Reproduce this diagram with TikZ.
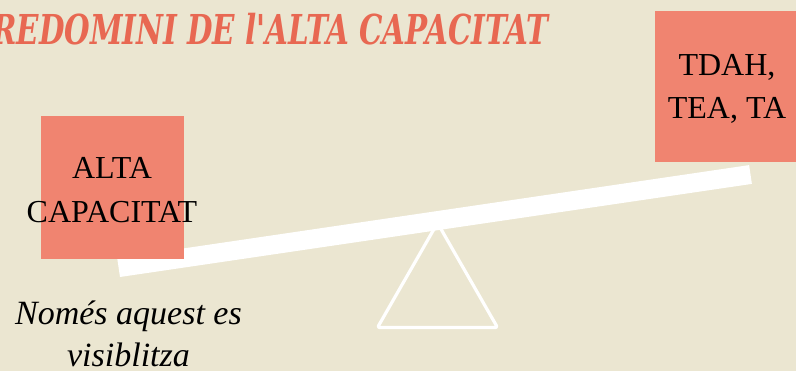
\documentclass[tikz,border=0pt]{standalone}
\usepackage{fontspec}
\setmainfont{Liberation Serif}
\newfontfamily\titlefont{DejaVu Serif Condensed}
\definecolor{bgcol}{RGB}{235,230,209}
\definecolor{boxcol}{RGB}{240,132,112}
\definecolor{titlecol}{RGB}{232,104,82}
\tikzset{
  boxnode/.style={fill=boxcol, draw=none, inner sep=0pt},
  boxtext/.style={inner sep=0pt, align=center, text=black, font=\fontsize{32}{44}\selectfont},
  notetext/.style={inner sep=0pt, align=center, text=black, font=\itshape\fontsize{34}{42}\selectfont},
  titletext/.style={inner sep=0pt, text=titlecol, font=\titlefont\bfseries\itshape\fontsize{41}{45}\selectfont},
  plank/.style={draw=white, line width=19pt, line cap=butt},
  fulcrum/.style={draw=white, line width=3.2pt, line join=round, rounded corners=2pt}
}
\begin{document}
\begin{tikzpicture}[x=1pt,y=-1pt]
\useasboundingbox (0,0) rectangle (796,371);
\fill[bgcol] (0,0) rectangle (796,371);
% title
\node[titletext, anchor=base west] (title) at (-8,45) {\resizebox{556pt}{31.3pt}{\llap{P}REDOMINI DE l'ALTA CAPACITAT}};
% fulcrum
\coordinate (apex) at (437.5,223);
\coordinate (fr) at (497.5,327.5);
\coordinate (fl) at (377.5,327.5);
\draw[fulcrum] (apex) -- (fr) -- (fl) -- cycle;
% plank
\coordinate (pl) at (118.6,267.6);
\coordinate (pr) at (750.5,174.5);
\draw[plank] (pl) -- (pr);
% boxes
\node[boxnode, minimum width=143pt, minimum height=143pt] (lbox) at (112.5,187.5) {};
\node[boxnode, minimum width=143pt, minimum height=151pt] (rbox) at (726.5,86.5) {};
% texts
\node[boxtext, anchor=north] (ltext) at (112,157) {ALTA\\CAPACITAT};
\node[boxtext, anchor=north, font=\fontsize{32}{43}\selectfont] (rtext) at (727,54) {TDAH,\\TEA, TA};
\node[notetext, anchor=base] (note) at (128.5,367) {Només aquest es\\visiblitza};
\end{tikzpicture}
\end{document}
